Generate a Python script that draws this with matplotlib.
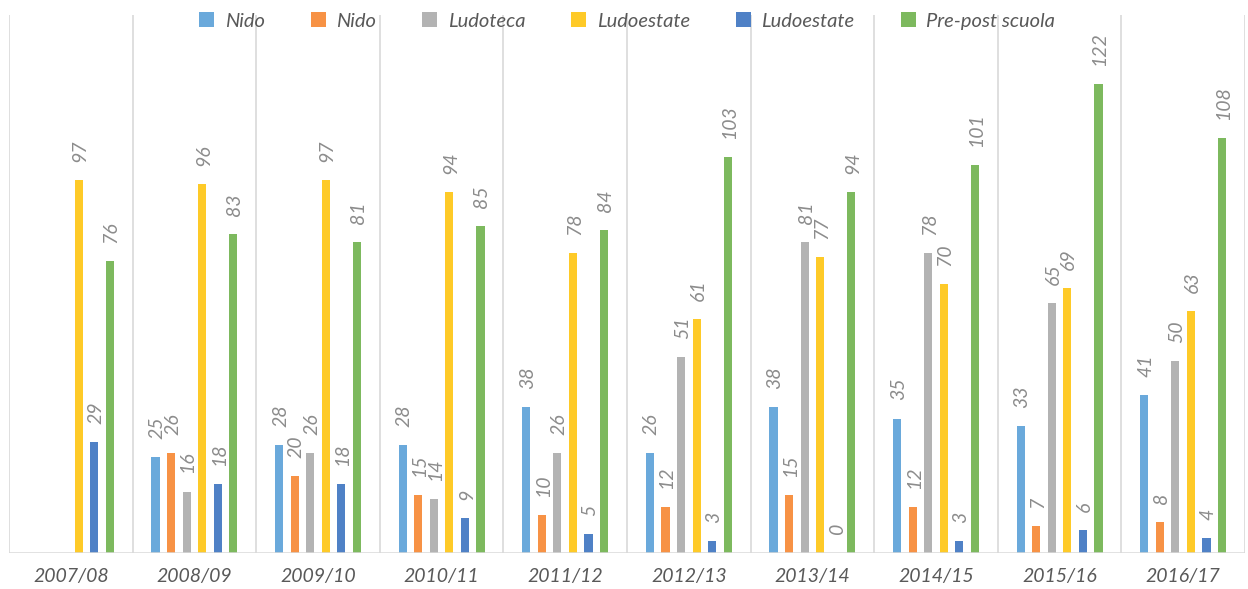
import numpy as np
import matplotlib.pyplot as plt

years = ["2007/08", "2008/09", "2009/10", "2010/11", "2011/12",
         "2012/13", "2013/14", "2014/15", "2015/16", "2016/17"]
series_names = ["Nido", "Nido", "Ludoteca", "Ludoestate", "Ludoestate", "Pre-post scuola"]

nido_a = [None, 25, 28, 28, 38, 26, 38, 35, 33, 41]
nido_b = [None, 26, 20, 15, 10, 12, 15, 12, 7, 8]
ludoteca = [None, 16, 26, 14, 26, 51, 81, 78, 65, 50]
ludoestate_a = [97, 96, 97, 94, 78, 61, 77, 70, 69, 63]
ludoestate_b = [29, 18, 18, 9, 5, 3, 0, 3, 6, 4]
prepost = [76, 83, 81, 85, 84, 103, 94, 101, 122, 108]

colors = ["#6AA9DB", "#F79245", "#B3B3B3", "#FECA28", "#4F81C6", "#7DB95E"]

plt.rcParams['font.family'] = ['Lato', 'DejaVu Sans']

fig = plt.figure(figsize=(12.48, 5.89), dpi=100)
ax = fig.add_axes([9 / 1248, 36 / 589, 1236 / 1248, 538 / 589])

x = np.arange(len(years))
step = 0.126
width = 0.066
all_series = [nido_a, nido_b, ludoteca, ludoestate_a, ludoestate_b, prepost]

for i, (vals, name, col) in enumerate(zip(all_series, series_names, colors)):
    pos = x + (i - 2.5) * step
    h = [np.nan if v is None else v for v in vals]
    ax.bar(pos, h, width, color=col, label=name, zorder=3)
    for p, v in zip(pos, vals):
        if v is None:
            continue
        ax.annotate(str(v), (p, v), xytext=(1, 13), textcoords="offset points",
                    rotation=90, ha="center", va="bottom", fontsize=14,
                    style="italic", color="#8C8C8C")

ax.set_xlim(-0.5, len(years) - 0.5)
ax.set_ylim(0, 140)
for b in np.arange(-0.5, len(years) + 0.5):
    ax.axvline(b, color="#D9D9D9", lw=1.2, zorder=1)
ax.axhline(0, color="#D9D9D9", lw=1.8, zorder=4)

for s in ax.spines.values():
    s.set_visible(False)
ax.set_yticks([])
ax.set_xticks(x)
ax.set_xticklabels(years, fontsize=14, style="italic", color="#595959")
ax.tick_params(axis="x", length=0, pad=11)

leg = ax.legend(loc="upper center", bbox_to_anchor=(0.5, 1.02), ncol=6, frameon=False,
                fontsize=14.5, handlelength=0.75, handleheight=0.75, columnspacing=2.3,
                handletextpad=0.5, borderaxespad=0.0)
for t in leg.get_texts():
    t.set_style("italic")
    t.set_color("#595959")

fig.savefig("out.png", dpi=100)
